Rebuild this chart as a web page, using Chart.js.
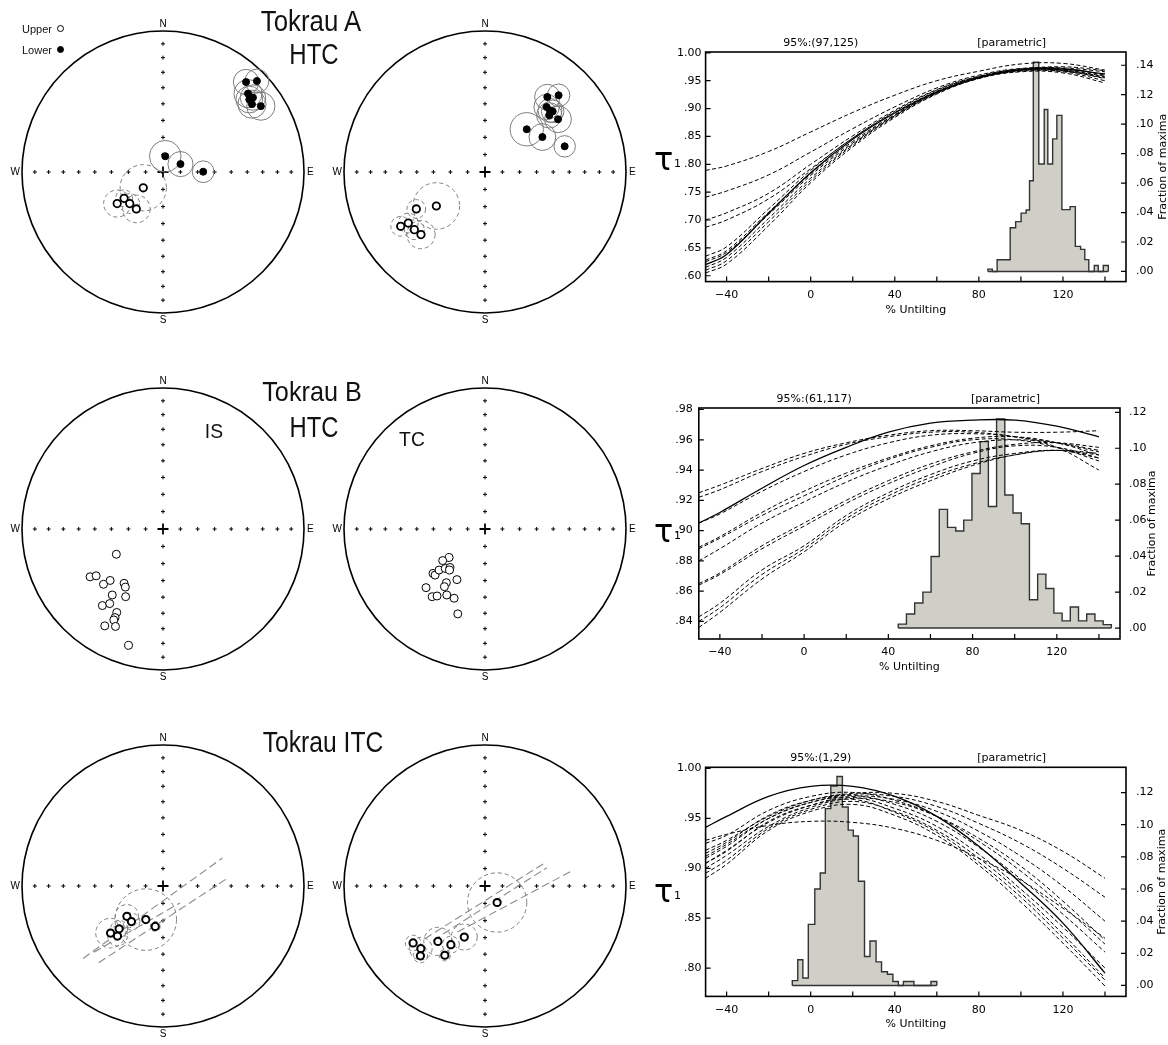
<!DOCTYPE html>
<html>
<head>
<meta charset="utf-8">
<title>Tokrau fold tests</title>
<script src="https://cdn.jsdelivr.net/npm/chart.js@4.4.1/dist/chart.umd.min.js"></script>
<style>
  body { margin: 0; width: 1168px; height: 1045px; background: #fff; position: relative; overflow: hidden; font-family: "Liberation Sans", Arial, sans-serif; }
  canvas { position: absolute; }
  .t { position: absolute; white-space: nowrap; color: #111; transform-origin: center; }
  .leg { position: absolute; left: 22px; font-size: 11px; line-height: 12px; color: #111; }
  .leg i { position: absolute; left: 35px; top: 2px; width: 5px; height: 5px; border: 1.5px solid #000; border-radius: 50%; }
</style>
</head>
<body>
<canvas id="netA1" width="320" height="316" style="left:3px;top:14px"></canvas>
<canvas id="netA2" width="320" height="316" style="left:325px;top:14px"></canvas>
<canvas id="netB1" width="320" height="316" style="left:3px;top:371px"></canvas>
<canvas id="netB2" width="320" height="316" style="left:325px;top:371px"></canvas>
<canvas id="netC1" width="320" height="316" style="left:3px;top:728px"></canvas>
<canvas id="netC2" width="320" height="316" style="left:325px;top:728px"></canvas>
<canvas id="foldA" width="528" height="310" style="left:640px;top:20px"></canvas>
<canvas id="foldB" width="528" height="310" style="left:640px;top:376px"></canvas>
<canvas id="foldC" width="528" height="310" style="left:640px;top:735px"></canvas>
<div class="leg" style="top:23px">Upper<i></i></div>
<div class="leg" style="top:44px">Lower<i style="background:#000"></i></div>
<script>
// % untilting where the tau1 curves are read, axis ticks, inclination grid of the nets
var untilt = [-50, -40, -20, 0, 20, 40, 60, 80, 100, 120, 140];
var untiltTicks = [-40, -20, 0, 20, 40, 60, 80, 100, 120, 140];
var gridInc = [10, 20, 30, 40, 50, 60, 70, 80];

// Tokrau A HTC fold test
var tauA = [.620, .638, .712, .785, .845, .892, .930, .956, .970, .971, .962];
var tauA_boot = [
  [.789, .797, .823, .858, .893, .924, .950, .967, .980, .981, .969],
  [.741, .752, .781, .822, .864, .903, .937, .960, .972, .972, .960],
  [.700, .713, .748, .800, .851, .897, .934, .958, .971, .969, .957],
  [.687, .700, .738, .792, .847, .895, .933, .957, .969, .968, .954],
  [.635, .652, .720, .789, .847, .893, .931, .957, .971, .973, .966],
  [.628, .645, .714, .783, .841, .889, .929, .955, .969, .969, .958],
  [.615, .633, .703, .775, .836, .887, .928, .955, .968, .967, .955],
  [.610, .627, .697, .771, .834, .886, .927, .954, .967, .966, .950],
  [.605, .621, .690, .767, .831, .884, .926, .954, .966, .964, .946],
  [.625, .642, .710, .780, .838, .888, .929, .955, .970, .975, .968]
];
var histA_edges = [84.3, 86.4, 88.7, 94.9, 97.5, 100.1, 102.5, 104.1, 105.9, 108.5, 111.1, 112.8, 115.1, 117.1, 119.5, 123.4, 125.9, 128.4, 130.4, 132.3, 134.9, 136.8, 139.2, 141.6];
var histA_frac = [.0016, 0, .0079, .0297, .0338, .0396, .0417, .0616, .142, .073, .110, .073, .090, .106, .042, .044, .017, .015, .008, 0, .004, 0, .004];

// Tokrau B HTC fold test
var tauB = [.905, .912, .928, .943, .955, .965, .971, .973, .973, .969, .962];
var tauB_boot = [
  [.925, .930, .941, .951, .958, .963, .966, .966, .965, .965, .966],
  [.922, .927, .939, .949, .957, .962, .965, .965, .962, .958, .952],
  [.889, .896, .912, .926, .938, .948, .956, .961, .962, .958, .950],
  [.888, .895, .910, .923, .936, .947, .955, .960, .960, .955, .946],
  [.880, .888, .905, .919, .932, .943, .952, .958, .960, .958, .953],
  [.865, .872, .890, .905, .920, .933, .944, .952, .957, .958, .955],
  [.864, .871, .888, .903, .918, .931, .942, .951, .956, .955, .948],
  [.843, .852, .874, .890, .910, .925, .937, .946, .951, .953, .950],
  [.840, .849, .871, .888, .908, .923, .935, .944, .950, .953, .948],
  [.836, .846, .868, .886, .906, .921, .933, .943, .950, .953, .951],
  [.905, .911, .926, .939, .950, .958, .963, .964, .962, .955, .940]
];
var histB_edges = [44.7, 48.6, 52.5, 56.4, 60.3, 64.2, 68.1, 72.0, 75.8, 79.7, 83.6, 87.5, 91.4, 95.3, 99.2, 103.1, 107.0, 110.9, 114.8, 118.6, 122.5, 126.4, 130.3, 134.2, 138.1, 142.0, 145.9];
var histB_frac = [.0022, .0078, .0139, .020, .0398, .066, .056, .054, .060, .086, .1037, .0676, .1163, .074, .064, .058, .0157, .030, .022, .0083, .004, .0117, .004, .0078, .004, .0019];

// Tokrau ITC fold test
var tauC = [.941, .952, .972, .982, .982, .972, .952, .922, .885, .845, .795];
var tauC_boot = [
  [.918, .928, .952, .968, .975, .975, .967, .953, .938, .917, .890],
  [.912, .924, .950, .966, .974, .972, .962, .945, .925, .900, .871],
  [.905, .918, .946, .963, .972, .969, .957, .937, .912, .882, .847],
  [.900, .913, .942, .961, .970, .966, .952, .930, .902, .867, .828],
  [.925, .933, .958, .972, .976, .968, .952, .927, .897, .862, .824],
  [.915, .926, .953, .968, .973, .964, .947, .921, .889, .854, .816],
  [.910, .922, .950, .966, .971, .960, .942, .914, .879, .841, .800],
  [.895, .908, .940, .959, .967, .957, .938, .910, .875, .834, .790],
  [.905, .917, .947, .963, .969, .956, .936, .906, .871, .830, .788],
  [.890, .904, .938, .957, .964, .953, .933, .903, .866, .825, .782],
  [.928, .934, .943, .947, .946, .940, .928, .910, .888, .860, .830]
];
var histC_edges = [-8.76, -6.16, -3.73, -1.14, 1.95, 4.54, 6.97, 9.57, 12.49, 15.08, 17.84, 20.27, 22.7, 25.6, 28.2, 31.1, 33.7, 36.5, 39.1, 41.7, 44.1, 49.1, 57.2, 60];
var histC_frac = [.003, .016, .0046, .038, .060, .070, .110, .124, .130, .111, .0966, .093, .0648, .018, .0277, .0147, .0085, .007, .0025, 0, .0025, 0, .0025];

// equal-area directions, [x, y, a95] in units of the primitive radius
var netA_is_lower = [[.589, .638, .09], [.666, .645, .085], [.603, .556, .10], [.638, .528, .09], [.612, .514, .095], [.631, .481, .10], [.694, .467, .10], [.016, .112, .112], [.124, .056, .089], [.285, .002, .077]];
var netA_is_upper = [[-.14, -.112, .164], [-.276, -.187, .06], [-.325, -.224, .096], [-.236, -.224, .07], [-.189, -.262, .098]];
var netA_tc_lower = [[.442, .532, .09], [.522, .544, .08], [.437, .461, .09], [.461, .437, .085], [.480, .430, .08], [.456, .402, .09], [.518, .374, .095], [.296, .303, .118], [.407, .248, .095], [.565, .182, .076]];
var netA_tc_upper = [[-.345, -.241, .165], [-.487, -.262, .066], [-.544, -.362, .07], [-.598, -.385, .07], [-.501, -.409, .07], [-.454, -.444, .10]];

var netB_is = [[-.331, -.179], [-.517, -.339], [-.474, -.332], [-.375, -.365], [-.422, -.392], [-.276, -.385], [-.267, -.412], [-.360, -.468], [-.265, -.480], [-.430, -.543], [-.378, -.529], [-.328, -.592], [-.340, -.628], [-.349, -.645], [-.413, -.687], [-.337, -.691], [-.244, -.825]];
var netB_tc = [[-.254, -.202], [-.300, -.224], [-.369, -.315], [-.354, -.327], [-.326, -.291], [-.282, -.280], [-.248, -.273], [-.251, -.291], [-.199, -.359], [-.274, -.381], [-.288, -.409], [-.418, -.416], [-.375, -.480], [-.340, -.475], [-.271, -.468], [-.219, -.491], [-.193, -.602]];

var netC_is = [[-.256, -.215, .083], [-.224, -.252, .06], [-.122, -.238, .218], [-.055, -.287, .035], [-.311, -.304, .06], [-.372, -.334, .105], [-.323, -.355, .07]];
var netC_is_planes = [[[-.567, -.514], [.422, .199]], [[-.456, -.544], [.445, .047]], [[-.49, -.47], [.12, -.12]]];
var netC_tc = [[.086, -.117, .21], [-.147, -.362, .092], [-.242, -.416, .06], [-.334, -.393, .10], [-.285, -.491, .04], [-.510, -.404, .055], [-.455, -.444, .08], [-.458, -.495, .05]];
var netC_tc_planes = [[[-.427, -.374], [.424, .164]], [[-.369, -.386], [.438, .129]], [[-.196, -.327], [.611, .105]]];

Chart.defaults.font.family = '"DejaVu Sans", sans-serif';
Chart.defaults.color = '#000';

// ---------------------------------------------------------------------------
// stereonets
// ---------------------------------------------------------------------------
var netDeco = {
  id: 'netDeco',
  beforeDatasetsDraw: function (chart) {
    var c = chart.ctx, sx = chart.scales.x, sy = chart.scales.y;
    var cx = sx.getPixelForValue(0), cy = sy.getPixelForValue(0);
    var r = sx.getPixelForValue(1) - cx;
    c.save();
    c.strokeStyle = '#000';
    c.lineWidth = 1.6;
    c.beginPath();
    c.arc(cx, cy, r, 0, 2 * Math.PI);
    c.stroke();
    c.fillStyle = '#000';
    c.font = '10px "Liberation Sans"';
    c.textAlign = 'center';
    c.textBaseline = 'alphabetic';
    c.fillText('N', cx, cy - r - 4);
    c.textBaseline = 'top';
    c.fillText('S', cx, cy + r + 2);
    c.textBaseline = 'middle';
    c.textAlign = 'right';
    c.fillText('W', cx - r - 2, cy);
    c.textAlign = 'left';
    c.fillText('E', cx + r + 3, cy);
    c.restore();
  },
  // dashed confidence circles
  beforeDatasetDraw: function (chart, args) {
    var d = chart.data.datasets[args.index];
    if (d.ringDash) chart.ctx.setLineDash(d.ringDash);
  },
  afterDatasetDraw: function (chart) {
    chart.ctx.setLineDash([]);
  }
};

function unitPx(chart) {
  var s = chart.scales.x;
  return s.getPixelForValue(1) - s.getPixelForValue(0);
}
function dots(list) {
  return list.map(function (p) { return { x: p[0], y: p[1] }; });
}
function rings(list) {
  return list.map(function (p) { return { x: p[0], y: p[1], a: p[2] }; });
}
function ringRadius(ctx) {
  return ctx.raw ? ctx.raw.a * unitPx(ctx.chart) : 0;
}
function gridTicks() {
  var out = [];
  gridInc.forEach(function (inc) {
    var r = Math.SQRT2 * Math.sin((90 - inc) / 2 * Math.PI / 180);
    out.push({ x: r, y: 0 }, { x: -r, y: 0 }, { x: 0, y: r }, { x: 0, y: -r });
  });
  return out;
}

function makeNet(id, o) {
  var sets = [];
  if (o.lower) {
    sets.push({ data: dots(o.lower), pointRadius: 3.5, backgroundColor: '#000', borderColor: '#000', borderWidth: 1, order: 0 });
    if (o.lower[0].length > 2)
      sets.push({ data: rings(o.lower), pointRadius: ringRadius, backgroundColor: 'rgba(0,0,0,0)', borderColor: '#7d7d7d', borderWidth: 1, order: 2 });
  }
  if (o.upper) {
    sets.push({ data: dots(o.upper), pointRadius: o.openR, backgroundColor: '#fff', borderColor: '#000', borderWidth: o.openW, order: 0 });
    if (o.upper[0].length > 2)
      sets.push({ data: rings(o.upper), pointRadius: ringRadius, backgroundColor: 'rgba(0,0,0,0)', borderColor: '#7d7d7d', borderWidth: 1, ringDash: [4, 3], order: 2 });
  }
  (o.planes || []).forEach(function (pl) {
    sets.push({ data: dots(pl), showLine: true, borderColor: '#8a8a8a', borderWidth: 1.1, borderDash: [8, 4], pointRadius: 0, order: 3 });
  });
  sets.push({ data: gridTicks(), pointStyle: 'cross', pointRadius: 2, borderColor: '#000', borderWidth: 1, order: 4 });
  sets.push({ data: [{ x: 0, y: 0 }], pointStyle: 'cross', pointRadius: 5.5, borderColor: '#000', borderWidth: 1.8, order: 4 });

  new Chart(document.getElementById(id), {
    type: 'scatter',
    data: { datasets: sets },
    options: {
      responsive: false,
      animation: false,
      events: [],
      layout: { padding: 0, autoPadding: false },
      scales: {
        x: { type: 'linear', min: -160 / 141, max: 160 / 141, display: false },
        y: { type: 'linear', min: -158 / 141, max: 158 / 141, display: false }
      },
      plugins: { legend: { display: false }, tooltip: { enabled: false } }
    },
    plugins: [netDeco]
  });
}

makeNet('netA1', { lower: netA_is_lower, upper: netA_is_upper, openR: 3.7, openW: 1.8 });
makeNet('netA2', { lower: netA_tc_lower, upper: netA_tc_upper, openR: 3.7, openW: 1.8 });
makeNet('netB1', { upper: netB_is, openR: 4, openW: 1 });
makeNet('netB2', { upper: netB_tc, openR: 4, openW: 1 });
makeNet('netC1', { upper: netC_is, planes: netC_is_planes, openR: 3.6, openW: 2 });
makeNet('netC2', { upper: netC_tc, planes: netC_tc_planes, openR: 3.6, openW: 2 });

// ---------------------------------------------------------------------------
// fold tests
// ---------------------------------------------------------------------------
var foldDeco = {
  id: 'foldDeco',
  afterDraw: function (chart, args, o) {
    var c = chart.ctx, a = chart.chartArea, s = chart.scales;
    c.save();
    c.strokeStyle = '#000';
    c.lineWidth = 1.2;
    c.beginPath();
    s.x.ticks.forEach(function (t) { var p = s.x.getPixelForValue(t.value); c.moveTo(p, a.bottom); c.lineTo(p, a.bottom - 5); });
    s.y.ticks.forEach(function (t) { var p = s.y.getPixelForValue(t.value); c.moveTo(a.left, p); c.lineTo(a.left + 5, p); });
    s.y1.ticks.forEach(function (t) { var p = s.y1.getPixelForValue(t.value); c.moveTo(a.right, p); c.lineTo(a.right - 5, p); });
    c.stroke();
    c.lineWidth = 1.6;
    c.strokeRect(a.left, a.top, a.right - a.left, a.bottom - a.top);

    c.fillStyle = '#000';
    c.font = '11px "DejaVu Sans"';
    c.textAlign = 'center';
    c.fillText(o.ci, a.left + 0.274 * (a.right - a.left), a.top - 6);
    c.fillText('[parametric]', a.left + 0.728 * (a.right - a.left), a.top - 6);
    c.fillText('% Untilting', (a.left + a.right) / 2, a.bottom + 31);

    c.textAlign = 'left';
    c.font = '32px "DejaVu Sans"';
    c.fillText('τ', 14, o.tauBase);
    c.font = '11px "DejaVu Sans"';
    c.fillText('1', 34, o.tauBase - 3);

    c.translate(o.fracX, (a.top + a.bottom) / 2);
    c.rotate(-Math.PI / 2);
    c.font = '11px "DejaVu Sans"';
    c.textAlign = 'center';
    c.textBaseline = 'middle';
    c.fillText('Fraction of maxima', 0, 0);
    c.restore();
  }
};

function pairs(vals) {
  return untilt.map(function (u, i) { return { x: u, y: vals[i] }; });
}
function decimal(v) {
  return v.toFixed(2).replace(/^0/, '');
}

function makeFold(id, tau, boot, edges, frac, o) {
  var sets = [];
  sets.push({ data: pairs(tau), borderColor: '#000', borderWidth: 1.3, pointRadius: 0, tension: 0.4, yAxisID: 'y', order: 0 });
  boot.forEach(function (c) {
    sets.push({ data: pairs(c), borderColor: '#000', borderWidth: 1, borderDash: [4, 2.5], pointRadius: 0, tension: 0.4, yAxisID: 'y', order: 1 });
  });
  // histogram of untilting maxima: each bin value holds from its left edge to the next edge
  var last = edges[edges.length - 1];
  var steps = [{ x: edges[0], y: 0 }];
  frac.forEach(function (f, i) { steps.push({ x: edges[i], y: f }); });
  steps.push({ x: last, y: 0 });
  sets.push({ data: steps, stepped: 'before', fill: 'origin', backgroundColor: '#cfcfc8', borderColor: '#333', borderWidth: 1.4, pointRadius: 0, yAxisID: 'y1', order: 5 });
  sets.push({ data: [{ x: edges[0], y: 0 }, { x: last, y: 0 }], borderColor: '#333', borderWidth: 1.4, pointRadius: 0, yAxisID: 'y1', order: 4 });

  var tickFont = { family: '"DejaVu Sans"', size: 11 };
  var noGrid = { display: false, drawTicks: false };
  new Chart(document.getElementById(id), {
    type: 'line',
    data: { datasets: sets },
    options: {
      responsive: false,
      animation: false,
      events: [],
      layout: { padding: { top: o.top, left: 0, right: 0, bottom: 0 }, autoPadding: false },
      scales: {
        x: {
          type: 'linear', min: -50, max: 150,
          grid: noGrid, border: { display: false },
          afterBuildTicks: function (s) { s.ticks = untiltTicks.map(function (v) { return { value: v }; }); },
          ticks: {
            autoSkip: false, maxRotation: 0, padding: 7, color: '#000', font: tickFont,
            callback: function (v) {
              if (Math.abs(v % 40) > 1e-6) return '';
              return v < 0 ? '\u2212' + Math.abs(v) : String(v);
            }
          },
          afterFit: function (s) { s.height = o.xh; }
        },
        y: {
          position: 'left', min: o.yMin, max: o.yMax,
          grid: noGrid, border: { display: false },
          ticks: { stepSize: o.yStep, includeBounds: false, padding: o.lpad, color: '#000', font: tickFont, callback: decimal },
          afterFit: function (s) { s.width = o.lw; }
        },
        y1: {
          position: 'right', min: o.fMin, max: o.fMax,
          grid: noGrid, border: { display: false },
          ticks: { stepSize: 0.02, includeBounds: false, padding: o.rpad, color: '#000', font: tickFont, callback: decimal },
          afterFit: function (s) { s.width = o.rw; }
        }
      },
      plugins: {
        legend: { display: false },
        tooltip: { enabled: false },
        foldDeco: o
      }
    },
    plugins: [foldDeco]
  });
}

makeFold('foldA', tauA, tauA_boot, histA_edges, histA_frac,
  { ci: '95%:(97,125)', yMin: .5895, yMax: 1.0015, yStep: .05, fMin: -.0069, fMax: .149,
    lw: 65.6, rw: 42, xh: 48.4, top: 32, lpad: 4, rpad: 10, tauBase: 150, fracX: 523 });
makeFold('foldB', tauB, tauB_boot, histB_edges, histB_frac,
  { ci: '95%:(61,117)', yMin: .8284, yMax: .981, yStep: .02, fMin: -.0061, fMax: .1224,
    lw: 58.8, rw: 48, xh: 47, top: 32, lpad: 6, rpad: 9, tauBase: 165.5, fracX: 512.6 });
makeFold('foldC', tauC, tauC_boot, histC_edges, histC_frac,
  { ci: '95%:(1,29)', yMin: .7716, yMax: 1.0012, yStep: .05, fMin: -.0068, fMax: .1357,
    lw: 65.6, rw: 42, xh: 48.6, top: 32.3, lpad: 4, rpad: 10, tauBase: 166.5, fracX: 522 });

// ---------------------------------------------------------------------------
// panel titles
// ---------------------------------------------------------------------------
function label(text, cx, base, size, sx) {
  var d = document.createElement('div');
  d.className = 't';
  d.textContent = text;
  d.style.fontSize = size + 'px';
  d.style.lineHeight = size + 'px';
  d.style.left = cx + 'px';
  d.style.top = (base - 0.8465 * size) + 'px';
  d.style.transform = 'translateX(-50%) scaleX(' + sx + ')';
  document.body.appendChild(d);
}
label('Tokrau A', 311, 31.7, 30, 0.86);
label('HTC', 314, 64, 30, 0.8);
label('Tokrau B', 312, 401.7, 28, 0.9);
label('HTC', 314, 437.7, 29, 0.82);
label('IS', 214, 437.7, 21, 0.92);
label('TC', 412, 446, 21, 0.92);
label('Tokrau ITC', 323, 752.7, 29, 0.85);
</script>
</body>
</html>
